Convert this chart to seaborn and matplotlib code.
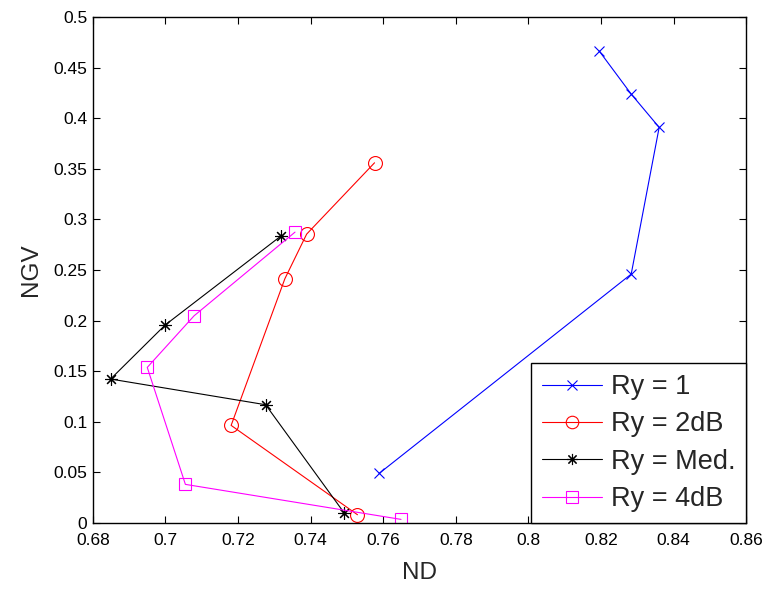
import numpy as np
import pandas as pd
import seaborn as sns
import matplotlib
matplotlib.use('Agg')
import matplotlib.pyplot as plt

# values
nd_ry1 = [0.8195, 0.8283, 0.8360, 0.8283, 0.7589]
ngv_ry1 = [0.4664, 0.4239, 0.3910, 0.2460, 0.0491]
nd_2db = [0.7576, 0.7389, 0.7329, 0.7181, 0.7529]
ngv_2db = [0.3560, 0.2855, 0.2414, 0.0965, 0.0082]
nd_med = [0.7318, 0.6999, 0.6849, 0.7276, 0.7492]
ngv_med = [0.2836, 0.1956, 0.1423, 0.1169, 0.0102]
nd_4db = [0.7357, 0.7079, 0.6950, 0.7055, 0.7649]
ngv_4db = [0.2875, 0.2048, 0.1538, 0.0382, 0.0036]

labels = ['Ry = 1', 'Ry = 2dB', 'Ry = Med.', 'Ry = 4dB']

sns.set_style('white')
plt.rcParams['font.family'] = ['Liberation Sans', 'DejaVu Sans']

fig = plt.figure(figsize=(7.67, 5.89), dpi=100)
ax = fig.add_axes([0.121, 0.112, 0.852, 0.859])

series = [
    (nd_ry1, ngv_ry1, 'blue', 'x', 7),
    (nd_2db, ngv_2db, 'red', 'o', 10),
    (nd_med, ngv_med, 'black', (8, 2, 0), 9),
    (nd_4db, ngv_4db, 'magenta', 's', 9),
]

for (xs, ys, col, mk, ms), lab in zip(series, labels):
    df = pd.DataFrame({'ND': xs, 'NGV': ys})
    sns.lineplot(data=df, x='ND', y='NGV', sort=False, estimator=None,
                 color=col, marker=mk, markersize=ms, markerfacecolor='none',
                 markeredgecolor=col, markeredgewidth=0.8, linewidth=0.8,
                 label=lab, ax=ax)

ax.set_xlim(0.68, 0.86)
ax.set_ylim(0, 0.5)
ax.set_xticks(np.arange(0.68, 0.861, 0.02))
ax.set_yticks(np.arange(0, 0.501, 0.05))
ax.set_xticklabels(['0.68', '0.7', '0.72', '0.74', '0.76', '0.78', '0.8', '0.82', '0.84', '0.86'])
ax.set_yticklabels(['0', '0.05', '0.1', '0.15', '0.2', '0.25', '0.3', '0.35', '0.4', '0.45', '0.5'])
ax.tick_params(direction='in', length=5, width=0.8, labelsize=12.5, top=True, right=True,
               bottom=True, left=True, colors='black')
ax.tick_params(axis='x', pad=7)
ax.tick_params(axis='y', pad=4)
for s in ax.spines.values():
    s.set_color('black')
    s.set_linewidth(1.0)
ax.set_xlabel('ND', fontsize=17.5, labelpad=10)
ax.set_ylabel('NGV', fontsize=17.5, labelpad=8)

leg = ax.legend(loc='lower right', fontsize=19.5, frameon=True, fancybox=False,
                borderaxespad=0.0, handlelength=2.2, labelspacing=0.42,
                handletextpad=0.33, borderpad=0.4, framealpha=1)
leg.get_frame().set_edgecolor('black')
leg.get_frame().set_linewidth(1.0)
for h, ms in zip(leg.get_lines(), [7, 9, 8, 8]):
    h.set_markersize(ms)

fig.savefig('out.png', dpi=100)
